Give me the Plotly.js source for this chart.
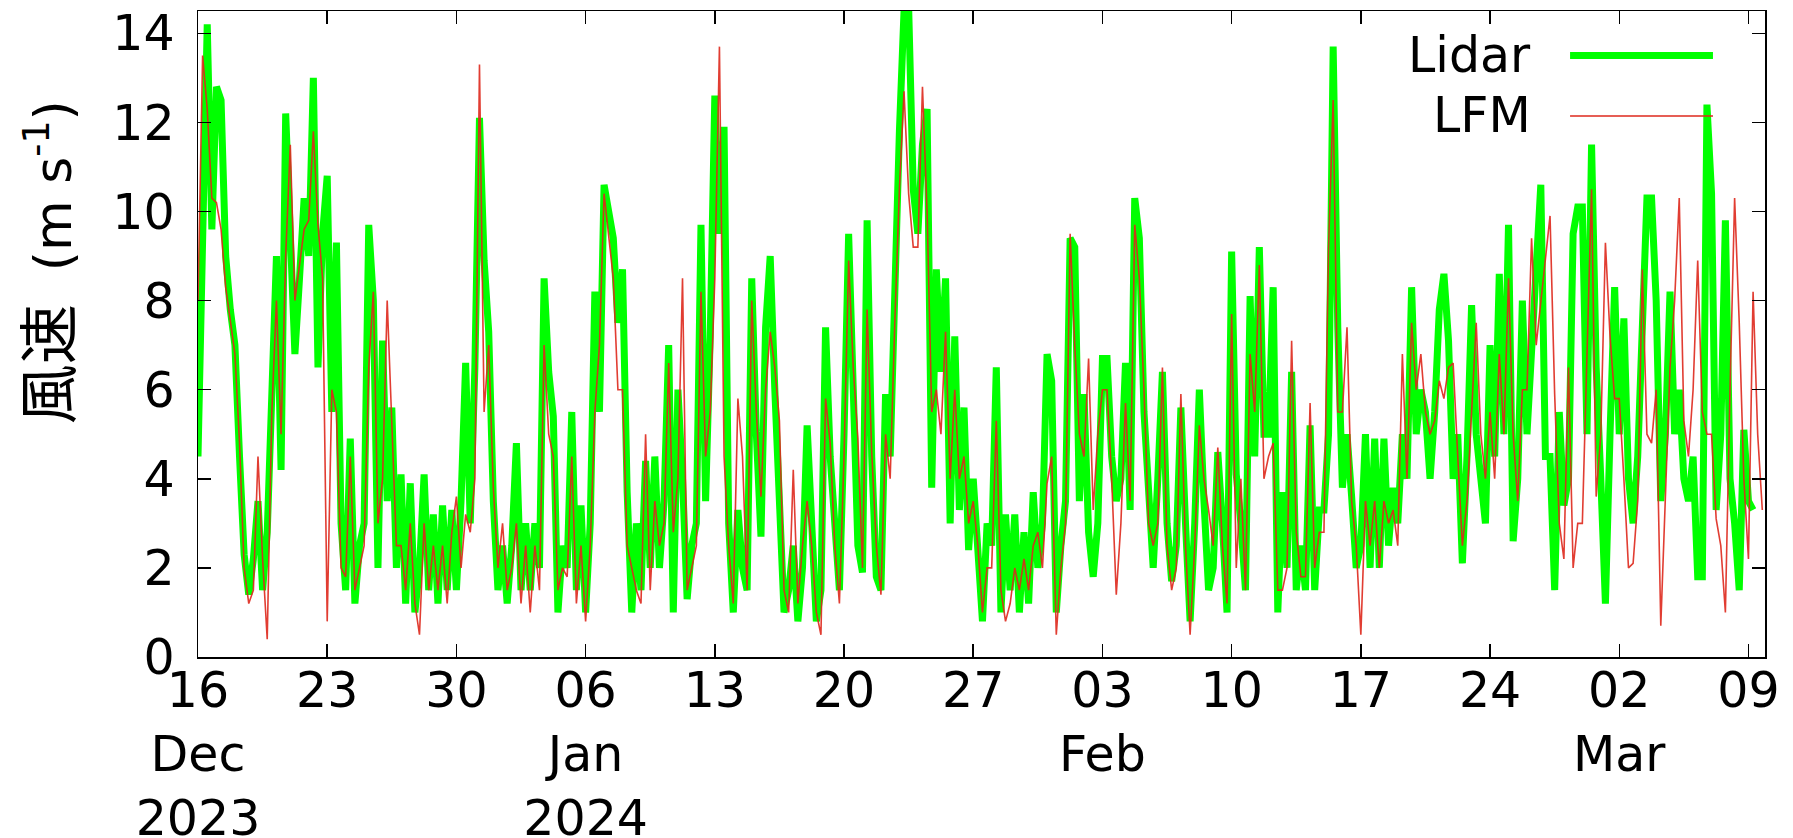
<!DOCTYPE html>
<html>
<head>
<meta charset="utf-8">
<script src="https://cdn.plot.ly/plotly-3.0.1.min.js"></script>
<style>
  html, body { margin: 0; padding: 0; background: #ffffff; }
  #chart { width: 1793px; height: 838px; }
</style>
</head>
<body>
<div id="chart"></div>
<script>
// Sampling: 6-hourly values starting 2023-12-16 00:00
const startTime = '2023-12-16T00:00:00Z';
const stepHours = 6;

// Lidar wind speed (m/s), 4 values per day
const lidarSpeed = [
  4.5, 8.6, 14.2, 9.6,   12.8, 12.5, 9.0, 7.8,   7.0, 4.5, 2.3, 1.4,   2.2, 3.5, 1.5, 2.8,
  6.5, 9.0, 4.2, 12.2,   9.5, 6.8, 8.5, 10.3,   9.0, 13.0, 6.5, 9.5,   10.8, 5.5, 9.3, 3.0,
  1.5, 4.9, 1.2, 2.5,    3.0, 9.7, 8.0, 2.0,    7.1, 3.5, 5.6, 2.0,    4.1, 1.2, 3.9, 1.0,
  2.0, 4.1, 1.5, 3.2,    1.2, 3.4, 1.5, 3.3,    1.5, 3.5, 6.6, 3.0,    6.5, 12.1, 8.9, 7.3,
  3.5, 1.5, 2.5, 1.2,    2.5, 4.8, 1.5, 3.0,    1.5, 3.0, 2.0, 8.5,    6.4, 5.4, 1.0, 2.5,
  2.0, 5.5, 1.5, 3.4,    1.0, 3.0, 8.2, 5.5,    10.6, 10.0, 9.4, 7.5,  8.7, 3.7, 1.0, 3.0,
  1.5, 4.4, 2.0, 4.5,    2.0, 3.5, 7.0, 1.0,    6.0, 4.0, 1.3, 2.5,    3.0, 9.7, 3.5, 7.2,
  12.6, 9.5, 11.9, 3.0,  1.0, 3.3, 2.0, 1.5,    8.5, 5.0, 2.7, 7.4,    9.0, 6.0, 3.3, 1.0,
  1.5, 2.5, 0.8, 2.0,    5.2, 3.3, 0.8, 1.5,    7.4, 4.5, 3.2, 1.5,    5.0, 9.5, 6.0, 2.5,
  1.9, 9.8, 4.5, 1.8,    1.5, 5.9, 4.5, 8.6,    11.8, 14.5, 14.6, 10.5, 9.5, 11.5, 12.3, 3.8,
  8.7, 6.4, 8.5, 3.0,    7.2, 3.3, 5.6, 2.4,    4.0, 2.4, 0.8, 3.0,    2.5, 6.5, 1.0, 3.2,
  1.5, 3.2, 1.0, 2.8,    1.2, 3.7, 2.0, 3.0,    6.8, 6.2, 1.0, 2.5,    3.5, 9.4, 9.2, 3.5,
  5.9, 2.8, 1.8, 3.0,    6.7, 6.7, 4.5, 3.5,    4.0, 6.6, 3.3, 10.3,   9.4, 5.5, 3.5, 2.0,
  4.0, 6.4, 3.0, 1.7,    2.5, 5.6, 3.0, 0.8,    3.0, 6.0, 3.5, 1.5,    2.0, 4.6, 3.0, 1.0,
  9.1, 4.1, 3.0, 1.5,    8.1, 4.5, 9.2, 5.0,    5.0, 8.3, 1.0, 3.7,    2.0, 6.4, 1.5, 2.5,
  1.5, 5.2, 1.5, 3.3,    3.3, 5.0, 13.7, 7.4,   3.8, 5.0, 3.6, 2.0,    2.5, 5.0, 2.0, 4.9,
  2.0, 4.9, 2.5, 3.8,    3.0, 5.0, 4.0, 8.3,    5.0, 6.0, 5.5, 4.0,    5.5, 7.8, 8.6, 7.1,
  4.0, 5.0, 2.1, 4.5,    7.9, 5.0, 4.0, 3.0,    7.0, 4.5, 8.6, 5.0,    9.7, 2.6, 4.0, 8.0,
  5.0, 7.0, 9.0, 10.6,   4.5, 4.5, 1.5, 5.5,    3.4, 4.0, 9.5, 10.1,   10.1, 5.0, 11.5, 6.5,
  4.0, 1.2, 5.0, 8.3,    5.0, 7.6, 4.0, 3.0,    4.5, 7.0, 10.3, 10.3,  8.0, 3.5, 5.0, 8.2,
  5.0, 6.0, 4.0, 3.5,    4.5, 1.8, 1.8, 12.4,   10.4, 3.3, 5.0, 9.8,   4.0, 3.0, 1.5, 5.1,
  3.5, 3.3
];

// LFM wind speed (m/s), 4 values per day
const lfmSpeed = [
  8.0, 13.5, 12.3, 10.3, 10.2, 9.6, 8.3, 7.5,   6.8, 4.8, 2.0, 1.2,    1.5, 4.5, 2.2, 0.4,
  5.5, 8.0, 5.0, 9.0,    11.5, 8.0, 8.8, 9.6,   9.8, 11.8, 9.7, 8.5,   0.8, 6.0, 5.5, 2.0,
  1.8, 4.5, 1.5, 2.0,    2.5, 6.5, 8.2, 3.0,    4.0, 8.0, 5.2, 2.5,    2.5, 1.5, 3.0, 1.2,
  0.5, 3.0, 1.5, 2.5,    1.5, 2.5, 1.2, 2.8,    3.6, 2.0, 3.2, 2.8,    4.0, 13.3, 5.5, 7.0,
  3.8, 2.0, 3.0, 1.5,    2.0, 3.0, 1.2, 2.5,    1.0, 2.5, 1.5, 7.0,    5.0, 4.5, 1.5, 2.0,
  1.8, 4.5, 1.2, 2.5,    0.8, 2.5, 5.5, 7.0,    10.4, 9.5, 8.5, 6.0,   6.0, 2.5, 2.0, 1.5,
  1.2, 5.0, 1.5, 3.5,    2.5, 3.0, 6.6, 2.8,    4.0, 8.5, 1.5, 2.0,    2.5, 8.2, 4.5, 5.5,
  8.5, 13.7, 4.5, 2.5,   1.2, 5.8, 4.5, 1.5,    8.0, 5.5, 3.6, 6.0,    7.3, 6.5, 5.3, 1.5,
  1.0, 4.2, 1.2, 2.5,    3.5, 2.5, 1.0, 0.5,    5.8, 4.8, 2.5, 1.2,    4.5, 8.9, 6.5, 4.9,
  2.0, 7.8, 4.6, 2.5,    1.4, 5.0, 4.0, 7.5,    10.5, 12.7, 10.4, 9.2, 9.2, 12.8, 10.0, 5.5,
  6.0, 5.0, 7.3, 4.0,    6.0, 4.0, 4.5, 3.0,    3.5, 2.5, 1.0, 2.0,    2.0, 5.3, 1.5, 0.8,
  1.2, 2.0, 1.5, 2.2,    1.5, 2.5, 2.8, 2.0,    3.9, 4.5, 0.5, 2.0,    3.0, 9.5, 7.0, 5.0,
  4.5, 6.7, 3.3, 5.0,    6.0, 6.0, 4.0, 1.4,    3.0, 5.7, 3.5, 9.7,    8.5, 6.0, 3.0, 2.5,
  3.0, 6.5, 2.5, 1.5,    2.0, 5.9, 2.5, 0.5,    2.5, 5.2, 4.0, 3.3,    2.5, 4.7, 2.5, 1.2,
  7.7, 2.0, 4.0, 1.5,    6.8, 5.5, 8.8, 4.0,    4.5, 4.8, 1.5, 1.5,    2.0, 7.1, 2.8, 1.8,
  1.8, 5.7, 2.0, 2.8,    2.8, 9.2, 12.5, 5.5,   5.5, 7.4, 3.5, 2.5,    0.5, 3.5, 2.5, 3.5,
  2.0, 3.5, 3.0, 3.3,    2.5, 6.8, 4.0, 7.5,    6.0, 6.8, 5.5, 5.0,    5.3, 6.2, 5.8, 6.5,
  6.6, 4.5, 2.5, 3.5,    5.5, 7.5, 5.0, 4.0,    5.5, 4.0, 6.8, 5.0,    8.5, 5.0, 3.5, 6.0,
  6.0, 9.4, 7.0, 8.0,    9.0, 9.9, 5.9, 3.0,    2.2, 6.5, 2.0, 3.0,    3.0, 7.0, 10.5, 3.6,
  5.0, 9.3, 7.2, 5.8,    5.8, 4.0, 2.0, 2.1,    3.5, 8.7, 5.0, 4.8,    6.0, 0.7, 3.5, 6.5,
  8.0, 10.3, 5.3, 4.5,   6.0, 8.9, 5.5, 5.0,    5.0, 3.1, 2.5, 1.0,    6.0, 10.3, 7.5, 4.0,
  2.2, 8.2, 5.0, 3.3
];

// Axis ticks
const xTickDates = ['2023-12-16','2023-12-23','2023-12-30','2024-01-06','2024-01-13','2024-01-20',
  '2024-01-27','2024-02-03','2024-02-10','2024-02-17','2024-02-24','2024-03-02','2024-03-09'];
const xTickLabels = ['16<br>Dec<br>2023','23','30','06<br>Jan<br>2024','13','20',
  '27','03<br>Feb','10','17','24','02<br>Mar','09'];
const yTickValues = [0, 2, 4, 6, 8, 10, 12, 14];
const seriesNames = ['Lidar', 'LFM'];

function timesFor(n) {
  const t0 = Date.parse(startTime);
  const out = [];
  for (let i = 0; i < n; i++) {
    out.push(new Date(t0 + i * stepHours * 3600e3).toISOString().slice(0, 19).replace('T', ' '));
  }
  return out;
}

const greenColor = '#00ff00';
const redColor = 'rgb(222,40,28)';
const tickFont = { family: 'DejaVu Sans, Noto Sans CJK JP, sans-serif', size: 49, color: '#000' };

const traces = [
  { x: timesFor(lidarSpeed.length), y: lidarSpeed, type: 'scatter', mode: 'lines',
    name: seriesNames[0], line: { color: greenColor, width: 7 }, showlegend: false },
  { x: timesFor(lfmSpeed.length), y: lfmSpeed, type: 'scatter', mode: 'lines',
    name: seriesNames[1], line: { color: redColor, width: 1.6 }, opacity: 0.9, showlegend: false }
];

const axisCommon = {
  ticks: 'inside', ticklen: 13, tickwidth: 1.5, tickcolor: '#000',
  showline: true, linecolor: '#000', linewidth: 1.5, mirror: 'ticks',
  showgrid: false, zeroline: false, automargin: false, tickfont: tickFont
};

const layout = {
  width: 1793, height: 838,
  margin: { l: 198, r: 28, t: 11, b: 181 },
  paper_bgcolor: '#ffffff', plot_bgcolor: '#ffffff',
  xaxis: Object.assign({}, axisCommon, {
    type: 'date', range: ['2023-12-16 00:00', '2024-03-09 21:30'],
    tickmode: 'array', tickvals: xTickDates, ticktext: xTickLabels,
    ticklabelstandoff: -10
  }),
  yaxis: Object.assign({}, axisCommon, {
    range: [0, 14.5], tickmode: 'array', tickvals: yTickValues,
    ticktext: yTickValues.map(String), ticklabelstandoff: 12
  }),
  shapes: [
    { type: 'line', xref: 'paper', yref: 'paper', x0: 0.8756, x1: 0.9668, y0: 0.931, y1: 0.931,
      line: { color: greenColor, width: 7 } },
    { type: 'line', xref: 'paper', yref: 'paper', x0: 0.8756, x1: 0.9668, y0: 0.8375, y1: 0.8375,
      line: { color: redColor, width: 1.6 } }
  ],
  annotations: [
    { text: seriesNames[0], xref: 'paper', yref: 'paper', x: 0.852, y: 0.931,
      xanchor: 'right', yanchor: 'middle', showarrow: false, font: tickFont },
    { text: seriesNames[1], xref: 'paper', yref: 'paper', x: 0.852, y: 0.8375,
      xanchor: 'right', yanchor: 'middle', showarrow: false, font: tickFont },
    { text: '<span style="font-size:60px">風速</span>\u00a0\u00a0(m s<sup>-1</sup>)',
      xref: 'paper', yref: 'paper', x: -0.0944, y: 0.611, textangle: -90,
      xanchor: 'center', yanchor: 'middle', showarrow: false,
      font: { family: 'DejaVu Sans, Noto Sans CJK JP, sans-serif', size: 52, color: '#000' } }
  ]
};

Plotly.newPlot('chart', traces, layout, { staticPlot: true, displayModeBar: false });
</script>
</body>
</html>
